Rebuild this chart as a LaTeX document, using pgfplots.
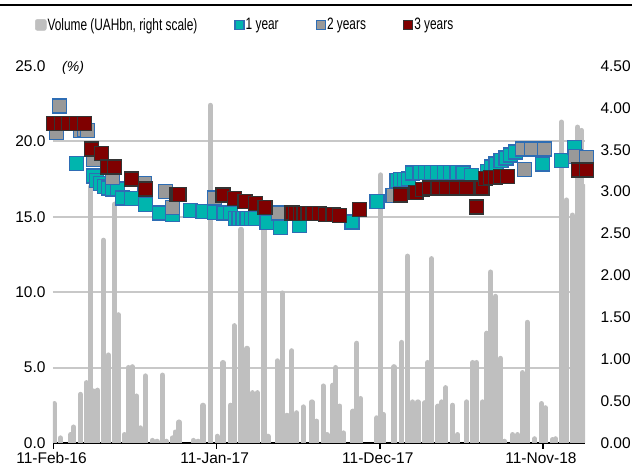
\documentclass[border=0pt]{standalone}
\usepackage{fontspec}
\setmainfont{Liberation Sans}
\newfontfamily\narrowfont[FakeStretch=0.72]{Liberation Sans}
\usepackage{pgfplots}
\pgfplotsset{compat=1.18}
\definecolor{barg}{HTML}{BFBFBF}
\definecolor{gridg}{HTML}{C8C8C8}
\definecolor{tealc}{HTML}{00B5AE}
\definecolor{edgeb}{HTML}{2E6DB4}
\definecolor{grayc}{HTML}{999999}
\definecolor{redc}{HTML}{7F0000}
\definecolor{edgek}{HTML}{333333}

\pgfplotstableread{
d v
2 0.47
14 0.06
35 0.10
41 0.19
55 0.58
67 0.72
76 3.06
82 0.62
90 0.63
102 2.42
112 1.05
125 2.85
133 1.53
145 0.10
153 0.90
161 0.91
170 0.56
178 0.18
188 0.80
202 0.03
212 0.02
223 0.81
231 0.02
243 0.06
249 0.13
257 0.25
286 0.03
296 0.02
306 0.45
321 4.03
335 0.08
347 0.96
362 0.45
370 1.40
384 2.55
396 1.13
407 0.60
417 0.60
431 2.63
439 0.08
458 0.98
468 1.79
478 0.33
488 1.10
498 0.36
511 0.43
529 0.49
539 0.26
552 0.68
560 0.10
572 0.69
578 0.90
586 0.44
594 0.12
613 0.38
621 1.19
629 0.53
662 0.30
670 3.20
676 0.34
697 0.91
713 1.20
725 2.23
735 0.49
746 0.49
760 0.48
766 0.96
774 2.20
787 0.44
795 0.49
803 0.66
817 0.45
827 0.10
846 0.49
858 0.96
866 0.96
878 0.49
887 1.31
891 1.15
895 2.04
905 1.75
915 1.01
923 0.02
940 0.10
950 0.10
960 0.84
970 1.44
985 0.05
999 0.47
1007 0.42
1021 0.04
1028 0.05
1040 3.83
1050 2.90
1062 2.72
1073 3.77
1081 3.73
1086 3.06
}\volume

\pgfplotstableread{
d y
47 18.55
82 17.7
88 17.4
96 17.2
104 17.0
112 16.9
121 16.85
131 16.85
141 16.25
159 16.2
188 15.8
217 15.25
243 15.15
280 15.4
306 15.35
329 15.3
349 15.25
362 15.25
372 14.9
380 14.9
388 14.9
396 14.9
405 14.9
413 14.9
437 14.6
464 14.3
503 14.4
611 14.65
662 16.0
703 17.4
711 17.45
719 17.45
727 17.5
735 17.9
750 17.95
762 17.95
774 17.95
786 17.95
800 17.95
812 17.95
826 17.95
838 17.9
856 17.75
888 18.0
896 18.3
906 18.5
916 18.75
926 18.9
936 19.1
946 19.3
1001 18.5
1040 18.75
1066 19.6
}\oneyear

\pgfplotstableread{
d y
6 20.6
12 22.35
55 20.7
63 20.8
70 20.7
82 18.8
121 17.6
186 17.2
229 16.7
243 15.6
329 16.25
460 15.25
695 16.4
960 19.5
964 18.15
979 19.5
1005 19.5
1068 19.0
1091 18.95
}\twoyears

\pgfplotstableread{
d y
0 21.2
16 21.2
31 21.2
47 21.2
63 21.2
78 19.5
98 19.2
110 18.3
125 18.3
159 17.5
188 16.85
253 16.5
257 16.5
347 16.45
370 16.2
392 16.0
413 15.9
433 15.6
488 15.25
496 15.2
505 15.2
513 15.2
521 15.2
531 15.2
545 15.2
557 15.15
572 15.15
586 15.1
627 15.5
711 16.45
742 16.6
755 16.8
770 16.9
787 16.9
805 16.9
825 16.9
845 16.9
866 15.65
877 16.9
885 17.55
895 17.6
905 17.6
915 17.65
930 17.65
1075 18.1
1091 18.1
}\threeyears

\pgfplotsset{
  base/.style={width=532pt, height=377pt, scale only axis,
    xmin=-1, xmax=1088,
    tick label style={font=\fontsize{15.5}{18}\selectfont},
    /pgf/number format/assume math mode=true},
}

\begin{document}
\begin{tikzpicture}
\useasboundingbox (-53pt,-30pt) rectangle (579pt,443pt);
\draw[black, line width=1.8pt] (-53pt,438pt) -- (579pt,438pt);

% axis with grid, left labels, x axis
\begin{axis}[base,
  ymin=0, ymax=25,
  ytick={0,5,10,15,20,25},
  axis y line*=left, y axis line style={draw=none},
  axis x line*=bottom, x axis line style={black, line width=1.8pt},
  ytick style={draw=none},
  xtick={0,334,668,1002},
  xticklabels={11-Feb-16,11-Jan-17,11-Dec-17,11-Nov-18},
  xtick style={black, line width=1.5pt},
  xticklabel style={xshift=-2pt},
  tick align=outside, major tick length=6pt,
  extra y ticks={5,10,15,20}, extra y tick labels={},
  extra y tick style={grid=major, tick style={draw=none}},
  major grid style={gridg, line width=2pt},
  yticklabel style={xshift=2pt, /pgf/number format/.cd, fixed, fixed zerofill, precision=1},
]
\addplot[draw=none] coordinates {(0,0)};
\end{axis}

% volume bars, right scale
\begin{axis}[base,
  ymin=0, ymax=4.5,
  ytick={0,0.5,1,1.5,2,2.5,3,3.5,4,4.5},
  axis y line*=right, y axis line style={draw=none},
  ytick style={draw=none}, tick align=outside, major tick length=6pt,
  axis x line=none,
  yticklabel style={xshift=6pt, /pgf/number format/.cd, fixed, fixed zerofill, precision=2},
]
\addplot[ycomb, draw=barg, line width=5.2pt, line cap=round, mark=none] table[x=d, y=v] {\volume};
\end{axis}

% yield markers, left scale
\begin{axis}[base,
  ymin=0, ymax=25, hide axis, clip=false,
  legend columns=4,
  legend cell align=left,
  legend style={at={(rel axis cs:-0.034,1.109)}, anchor=west, draw=none, fill=none,
    inner sep=0pt, font=\narrowfont\fontsize{16.5}{18}\selectfont,
    nodes={inner xsep=1pt, inner ysep=1pt},
    /tikz/every even column/.style={column sep=36pt}},
]
\addlegendimage{legend image code/.code={\fill[barg, rounded corners=2pt] (0pt,-5.5pt) rectangle (11pt,5.5pt);}}
\addlegendentry{Volume (UAHbn, right scale)}
\addplot[only marks, mark=square*, mark size=7pt,
  mark options={fill=tealc, draw=edgeb, line width=1.3pt},
  legend image code/.code={\draw[fill=tealc, draw=edgeb, line width=1.3pt] (0.7pt,-4.5pt) rectangle (9.7pt,4.5pt);}]
  table[x=d, y=y] {\oneyear};
\addlegendentry{1 year}
\addplot[only marks, mark=square*, mark size=7pt,
  mark options={fill=grayc, draw=edgeb, line width=1.3pt},
  legend image code/.code={\draw[fill=grayc, draw=edgeb, line width=1.3pt] (0.7pt,-4.5pt) rectangle (9.7pt,4.5pt);}]
  table[x=d, y=y] {\twoyears};
\addlegendentry{2 years}
\addplot[only marks, mark=square*, mark size=7pt,
  mark options={fill=redc, draw=edgek, line width=1.3pt},
  legend image code/.code={\draw[fill=redc, draw=edgek, line width=1.3pt] (0.7pt,-4.5pt) rectangle (9.7pt,4.5pt);}]
  table[x=d, y=y] {\threeyears};
\addlegendentry{3 years}
\node[font=\itshape\fontsize{14}{16}\selectfont, anchor=west, inner sep=0pt] at (rel axis cs:0.017,0.995) {(\%)};
\end{axis}
\end{tikzpicture}
\end{document}
